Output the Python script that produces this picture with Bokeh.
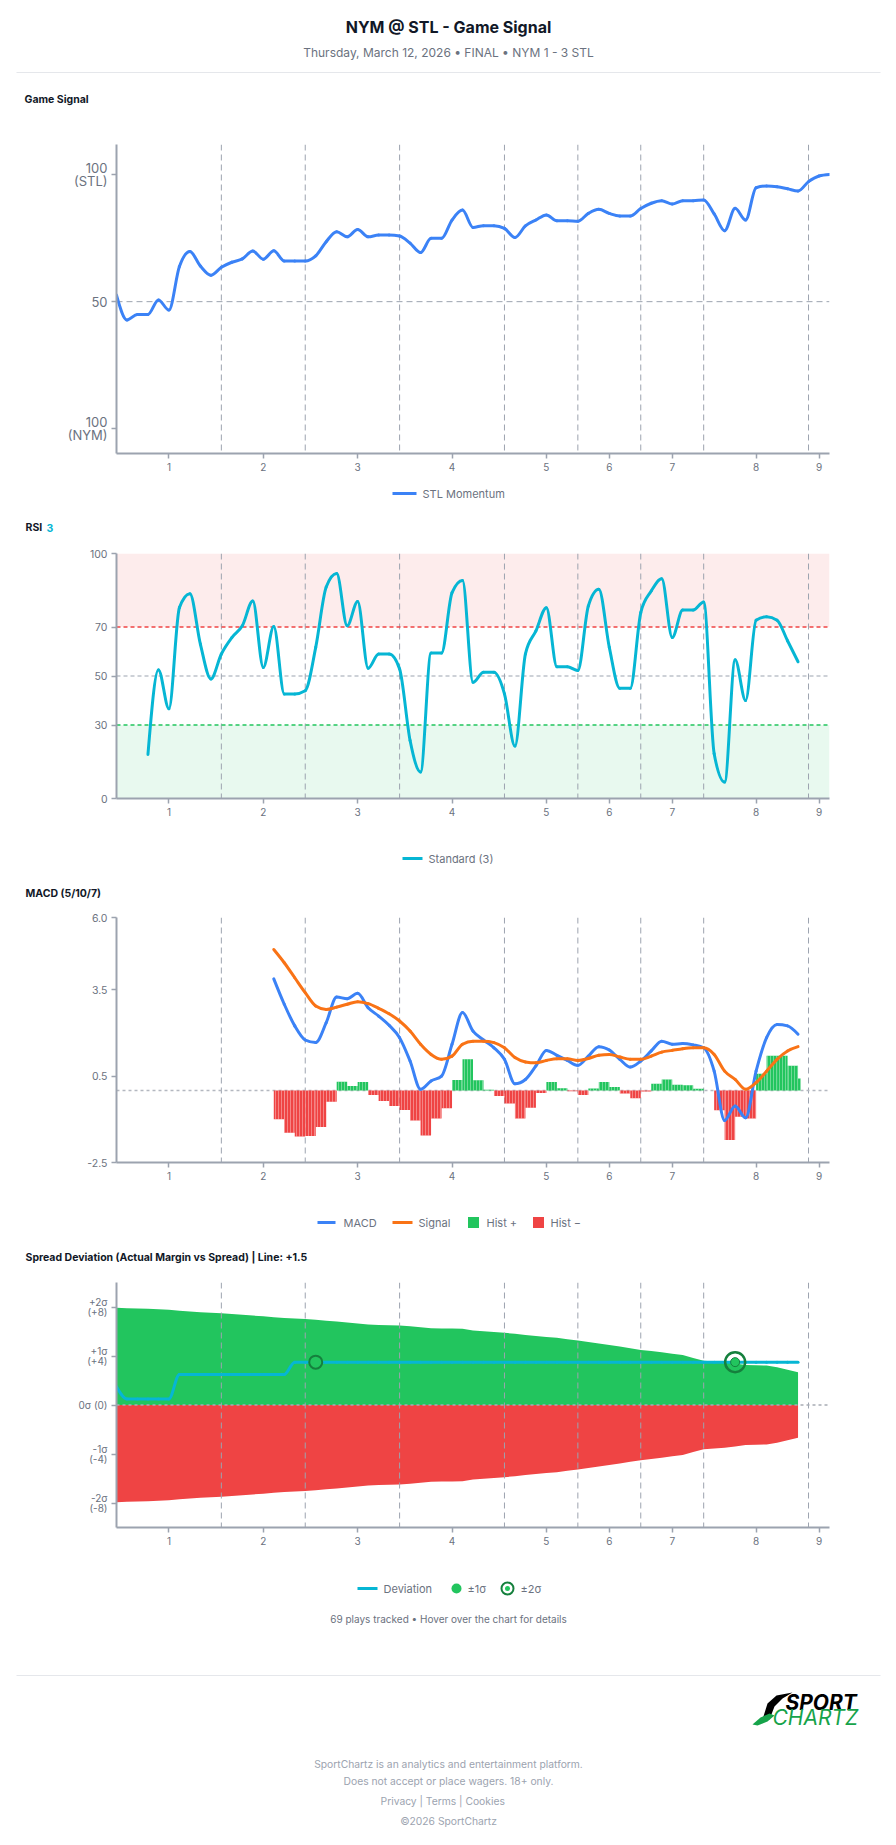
import numpy as np
from bokeh.plotting import figure
from bokeh.layouts import column
from bokeh.models import (Range1d, FixedTicker, Span, BoxAnnotation, PrintfTickFormatter,
                          Label, Arrow, PolyAnnotation)
from bokeh.embed import file_html
from bokeh.resources import INLINE

# ---------------- data ----------------
n_plays = 69
inning_tick_idx = [5, 14, 23, 32, 41, 47, 53, 61, 67]
inning_labels = ["1", "2", "3", "4", "5", "6", "7", "8", "9"]
inning_breaks = [10, 18, 27, 37, 44, 50, 56, 66]

game_signal = [
    52.6, 42.8, 45.0, 45.0, 50.7, 46.7, 63.8, 69.7, 64.0, 60.4,
    63.5, 65.5, 66.8, 69.9, 66.7, 70.0, 66.0, 66.0, 66.0, 68.0,
    73.6, 77.5, 75.5, 78.4, 75.5, 76.2, 76.2, 75.8, 73.0, 69.3,
    74.9, 74.9, 82.1, 86.0, 79.2, 79.9, 79.9, 78.8, 75.2, 79.8,
    82.1, 84.1, 81.8, 81.8, 81.6, 84.7, 86.3, 84.7, 83.7, 83.7,
    86.6, 88.7, 89.7, 88.4, 89.7, 89.7, 90.0, 84.5, 77.9, 86.7,
    82.1, 94.8, 95.5, 95.2, 94.4, 93.5, 97.2, 99.4, 100.0]

rsi_start = 3
rsi = [
    18.0, 52.5, 36.6, 77.9, 83.6, 63.0, 48.8, 59.0, 65.7, 70.5,
    80.6, 53.5, 70.2, 42.7, 42.7, 44.0, 61.7, 86.3, 91.8, 70.5,
    80.4, 53.2, 59.0, 59.0, 52.9, 23.7, 10.8, 59.4, 59.4, 84.0,
    89.0, 47.4, 51.5, 51.5, 42.7, 21.4, 59.0, 68.4, 77.9, 53.8,
    53.8, 52.2, 78.6, 85.4, 61.7, 45.0, 45.0, 75.9, 84.7, 89.7,
    65.7, 76.9, 76.9, 80.2, 18.3, 6.7, 56.6, 40.0, 72.8, 74.2,
    72.8, 64.4, 55.8]
rsi_overbought = 70
rsi_mid = 50
rsi_oversold = 30

macd_start = 15
macd = [
    3.87, 2.99, 2.24, 1.75, 1.66, 2.35, 3.24, 3.18, 3.37, 2.87,
    2.58, 2.26, 1.83, 1.02, 0.04, 0.33, 0.50, 1.60, 2.70, 2.06,
    1.75, 1.48, 1.08, 0.23, 0.38, 0.85, 1.39, 1.22, 1.04, 0.87,
    1.19, 1.52, 1.40, 1.08, 0.81, 1.02, 1.37, 1.71, 1.60, 1.63,
    1.58, 1.48, 0.67, -1.04, -0.54, -0.95, 0.67, 1.83, 2.29, 2.24,
    1.95]
signal = [
    4.89, 4.43, 3.91, 3.39, 2.93, 2.81, 2.89, 2.99, 3.08, 3.01,
    2.85, 2.66, 2.41, 2.06, 1.60, 1.25, 1.08, 1.19, 1.60, 1.71,
    1.71, 1.66, 1.48, 1.14, 0.99, 0.96, 1.04, 1.10, 1.10, 1.04,
    1.11, 1.22, 1.25, 1.16, 1.08, 1.08, 1.19, 1.33, 1.39, 1.45,
    1.48, 1.48, 1.25, 0.67, 0.38, 0.04, 0.27, 0.67, 1.08, 1.37,
    1.52]
hist = [
    -1.00, -1.47, -1.60, -1.58, -1.27, -0.39, 0.30, 0.15, 0.29, -0.16,
    -0.37, -0.54, -0.68, -1.04, -1.56, -0.97, -0.62, 0.36, 1.08, 0.35,
    0.02, -0.19, -0.45, -0.97, -0.60, -0.09, 0.29, 0.08, -0.03, -0.16,
    0.07, 0.29, 0.12, -0.11, -0.27, -0.04, 0.23, 0.38, 0.20, 0.18,
    0.06, 0.00, -0.69, -1.72, -0.91, -0.97, 0.58, 1.20, 1.20, 0.86,
    0.41]

spread_band = [
    7.93, 7.90, 7.88, 7.85, 7.82, 7.77, 7.70, 7.64, 7.57, 7.53,
    7.49, 7.43, 7.37, 7.30, 7.24, 7.17, 7.11, 7.07, 7.03, 6.95,
    6.88, 6.81, 6.73, 6.65, 6.57, 6.54, 6.51, 6.49, 6.42, 6.34,
    6.27, 6.24, 6.24, 6.22, 6.08, 6.02, 5.95, 5.89, 5.81, 5.72,
    5.64, 5.56, 5.48, 5.37, 5.26, 5.14, 5.02, 4.90, 4.77, 4.64,
    4.50, 4.40, 4.30, 4.19, 4.09, 3.84, 3.62, 3.56, 3.49, 3.38,
    3.27, 3.25, 3.22, 3.08, 2.88, 2.67]
deviation = [
    1.5, 0.5, 0.5, 0.5, 0.5, 0.5, 2.5, 2.5, 2.5, 2.5,
    2.5, 2.5, 2.5, 2.5, 2.5, 2.5, 2.5, 3.5, 3.5, 3.5,
    3.5, 3.5, 3.5, 3.5, 3.5, 3.5, 3.5, 3.5, 3.5, 3.5,
    3.5, 3.5, 3.5, 3.5, 3.5, 3.5, 3.5, 3.5, 3.5, 3.5,
    3.5, 3.5, 3.5, 3.5, 3.5, 3.5, 3.5, 3.5, 3.5, 3.5,
    3.5, 3.5, 3.5, 3.5, 3.5, 3.5, 3.5, 3.5, 3.5, 3.5,
    3.5, 3.5, 3.5, 3.5, 3.5, 3.5]
sigma1_idx = [19]
sigma2_idx = [59]
spread_ticks = [-8, -4, 0, 4, 8]
spread_tick_labels = ["-2\u03c3\n(-8)", "-1\u03c3\n(-4)", "0\u03c3 (0)", "+1\u03c3\n(+4)", "+2\u03c3\n(+8)"]
signal_ticks = [0, 50, 100]
signal_tick_labels = ["100\n(NYM)", "50", "100\n(STL)"]

# ---------------- style ----------------
FONT = "Inter"
BLUE = "#3b82f6"
CYAN = "#06b6d4"
ORANGE = "#f97316"
GREEN = "#22c55e"
RED = "#ef4444"
DKGREEN = "#15803d"
LOGOGREEN = "#16a34a"
GRAY = "#9ca3af"
TXT = "#6b7280"
DARK = "#111827"
W = 896
BL, BR = 116, 67            # left/right borders of every chart frame


def strip(h):
    # full-width frame (not aligned with chart frames); data units == page pixels
    f = figure(width=W, height=h, x_range=Range1d(0, W), y_range=Range1d(h, 0),
               toolbar_location=None, output_backend="svg", x_axis_type=None,
               y_axis_type=None, min_border=0, outline_line_color=None,
               frame_align=False)
    f.grid.visible = False
    return f


def txt(f, x, y, s, size, color, style="normal", align="left"):
    f.add_layout(Label(x=x, y=y, text=s, text_font=FONT, text_font_size=size,
                       text_color=color, text_font_style=style, text_align=align,
                       text_baseline="middle"))


def rule(f, y, x0=16, x1=880):
    f.add_layout(Arrow(end=None, x_start=x0, y_start=y, x_end=x1, y_end=y,
                       line_color="#e5e7eb", line_width=1))


def style_axis(ax, size):
    ax.axis_line_color = GRAY
    ax.axis_line_width = 2
    ax.major_tick_line_color = GRAY
    ax.major_tick_line_width = 1.5
    ax.major_tick_out = 5
    ax.major_tick_in = 0
    ax.minor_tick_line_color = None
    ax.major_label_text_font = FONT
    ax.major_label_text_font_size = size
    ax.major_label_text_color = TXT
    ax.major_label_standoff = 4


def panel(h, top, yr, ylab_size="10.5px"):
    f = figure(width=W, height=h, x_range=Range1d(0, n_plays - 1), y_range=yr,
               toolbar_location=None, output_backend="svg",
               min_border_left=BL, min_border_right=BR, min_border_top=top,
               min_border_bottom=25, outline_line_color=None)
    f.grid.visible = False
    f.xaxis.ticker = FixedTicker(ticks=inning_tick_idx)
    f.xaxis.major_label_overrides = {t: l for t, l in zip(inning_tick_idx, inning_labels)}
    style_axis(f.xaxis[0], "10px")
    style_axis(f.yaxis[0], ylab_size)
    return f


def add_breaks(f):
    for b in inning_breaks:
        f.add_layout(Span(location=b, dimension="height", line_color=GRAY,
                          line_dash="6 4", line_width=1, level="underlay"))


def smooth(f, xs, ys, color, width=3):
    xs = np.asarray(xs, float)
    ys = np.asarray(ys, float)
    n = len(xs)
    h = np.diff(xs)
    s = np.diff(ys) / h
    t = np.zeros(n)
    for i in range(1, n - 1):
        if s[i - 1] * s[i] <= 0:
            t[i] = 0.0
        else:
            p = (s[i - 1] * h[i] + s[i] * h[i - 1]) / (h[i - 1] + h[i])
            t[i] = 2 * np.sign(s[i - 1]) * min(abs(s[i - 1]), abs(s[i]), 0.5 * abs(p))
    t[0] = (3 * s[0] - t[1]) / 2
    t[-1] = (3 * s[-1] - t[-2]) / 2
    d = h / 3
    f.bezier(x0=xs[:-1], y0=ys[:-1], x1=xs[1:], y1=ys[1:],
             cx0=xs[:-1] + d, cy0=ys[:-1] + d * t[:-1],
             cx1=xs[1:] - d, cy1=ys[1:] - d * t[1:],
             line_color=color, line_width=width, line_cap="round")


# ---------------- header ----------------
hdr = strip(112)
txt(hdr, 448, 26, "NYM @ STL - Game Signal", "16px", DARK, "bold", "center")
txt(hdr, 448, 52, "Thursday, March 12, 2026 \u2022 FINAL \u2022 NYM 1 - 3 STL", "12px", TXT, "normal", "center")
rule(hdr, 72)
txt(hdr, 24, 99, "Game Signal", "10.5px", DARK, "bold")

# ---------------- game signal ----------------
p1 = panel(366, 32, Range1d(-9.7, 111.8), "13px")
p1.yaxis.ticker = FixedTicker(ticks=signal_ticks)
p1.yaxis.major_label_overrides = {t: l for t, l in zip(signal_ticks, signal_tick_labels)}
p1.yaxis.major_label_text_line_height = 0.8
p1.add_layout(Span(location=50, dimension="width", line_color=GRAY, line_dash="6 4",
                   line_width=1, level="underlay"))
add_breaks(p1)
smooth(p1, np.arange(len(game_signal)), game_signal, BLUE, 3)

l1 = strip(62)
l1.segment(x0=[392], y0=[15], x1=[416], y1=[15], line_color=BLUE, line_width=3)
txt(l1, 422, 15, "STL Momentum", "11px", TXT)
txt(l1, 25, 49, "RSI", "10.5px", DARK, "bold")
txt(l1, 46, 49, "3", "10.5px", CYAN, "bold")

# ---------------- RSI ----------------
p2 = panel(283, 13, Range1d(0, 100))
p2.yaxis.ticker = FixedTicker(ticks=[0, rsi_oversold, rsi_mid, rsi_overbought, 100])
p2.add_layout(BoxAnnotation(bottom=rsi_overbought, top=100, fill_color=RED, fill_alpha=0.1,
                            line_color=None, level="underlay"))
p2.add_layout(BoxAnnotation(bottom=0, top=rsi_oversold, fill_color=GREEN, fill_alpha=0.1,
                            line_color=None, level="underlay"))
add_breaks(p2)
p2.add_layout(Span(location=rsi_overbought, dimension="width", line_color=RED, line_dash="4 3",
                   line_width=1.5, level="underlay"))
p2.add_layout(Span(location=rsi_mid, dimension="width", line_color=GRAY, line_dash="4 3",
                   line_width=1.2, level="underlay"))
p2.add_layout(Span(location=rsi_oversold, dimension="width", line_color=GREEN, line_dash="4 3",
                   line_width=1.5, level="underlay"))
smooth(p2, np.arange(rsi_start, rsi_start + len(rsi)), rsi, CYAN, 3)

l2 = strip(82)
l2.segment(x0=[402], y0=[35], x1=[422], y1=[35], line_color=CYAN, line_width=3)
txt(l2, 428, 35, "Standard (3)", "11px", TXT)
txt(l2, 25, 70, "MACD (5/10/7)", "10.5px", DARK, "bold")

# ---------------- MACD ----------------
p3 = panel(282, 12, Range1d(-2.5, 6.0))
p3.yaxis.ticker = FixedTicker(ticks=[-2.5, 0.5, 3.5, 6.0])
p3.yaxis.formatter = PrintfTickFormatter(format="%.1f")
add_breaks(p3)
p3.add_layout(Span(location=0, dimension="width", line_color="#b4b8c0", line_dash="3 3",
                   line_width=1.5, level="underlay"))
mx = np.arange(macd_start, macd_start + len(macd), dtype=float)
hv = np.asarray(hist)
rights = mx + 1.0
rights[-1] = mx[-1] + 0.25
cols = [GREEN if v >= 0 else RED for v in hv]
p3.quad(left=mx, right=rights, bottom=np.minimum(hv, 0), top=np.maximum(hv, 0),
        fill_color=cols, line_color=None, hatch_pattern="|", hatch_color="white",
        hatch_alpha=0.35, hatch_scale=3, hatch_weight=1)
smooth(p3, mx, macd, BLUE, 3)
smooth(p3, mx, signal, ORANGE, 3)

l3 = strip(83)
l3.segment(x0=[317], y0=[35], x1=[335], y1=[35], line_color=BLUE, line_width=3)
txt(l3, 343, 35, "MACD", "11px", TXT)
l3.segment(x0=[392], y0=[35], x1=[412], y1=[35], line_color=ORANGE, line_width=3)
txt(l3, 418, 35, "Signal", "11px", TXT)
l3.scatter(x=[473], y=[35], marker="square", size=11, fill_color=GREEN, line_color=None)
txt(l3, 486, 35, "Hist +", "11px", TXT)
l3.scatter(x=[538], y=[35], marker="square", size=11, fill_color=RED, line_color=None)
txt(l3, 550, 35, "Hist \u2212", "11px", TXT)
txt(l3, 25, 70, "Spread Deviation (Actual Margin vs Spread) | Line: +1.5", "10.5px", DARK, "bold")

# ---------------- Spread deviation ----------------
p4 = panel(282, 12, Range1d(-10, 10), "10px")
p4.yaxis.ticker = FixedTicker(ticks=spread_ticks)
p4.yaxis.major_label_overrides = {t: l for t, l in zip(spread_ticks, spread_tick_labels)}
p4.yaxis.major_label_text_line_height = 0.85
sx = np.arange(len(spread_band), dtype=float)
sb = np.asarray(spread_band)
p4.varea(x=sx, y1=np.zeros_like(sb), y2=sb, fill_color=GREEN, level="underlay")
p4.varea(x=sx, y1=-sb, y2=np.zeros_like(sb), fill_color=RED, level="underlay")
add_breaks(p4)
p4.add_layout(Span(location=0, dimension="width", line_color="#a8acb4", line_dash="3 3",
                   line_width=1.5, level="underlay"))
smooth(p4, np.arange(len(deviation)), deviation, CYAN, 3)
dv = np.asarray(deviation)
p4.scatter(x=sigma1_idx, y=dv[sigma1_idx], size=13, fill_color=GREEN, line_color=DKGREEN,
           line_width=2)
p4.scatter(x=sigma2_idx, y=dv[sigma2_idx], size=20, fill_color=None, line_color=DKGREEN,
           line_width=2.5)
p4.scatter(x=sigma2_idx, y=dv[sigma2_idx], size=9, fill_color=GREEN, line_color=DKGREEN,
           line_width=1)

# ---------------- footer ----------------
ft = strip(293)
ft.segment(x0=[357], y0=[36], x1=[377], y1=[36], line_color=CYAN, line_width=3)
txt(ft, 383, 36, "Deviation", "11px", TXT)
ft.scatter(x=[456], y=[36], size=10, fill_color=GREEN, line_color=None)
txt(ft, 467, 36, "\u00b11\u03c3", "11px", TXT)
ft.scatter(x=[507], y=[36], size=12, fill_color="white", line_color=DKGREEN, line_width=2)
ft.scatter(x=[507], y=[36], size=5, fill_color=GREEN, line_color=None)
txt(ft, 520, 36, "\u00b12\u03c3", "11px", TXT)
txt(ft, 448, 66, "69 plays tracked \u2022 Hover over the chart for details", "10px", TXT, "normal", "center")
rule(ft, 123)
# logo
ft.add_layout(PolyAnnotation(xs=[762, 767, 776, 792, 782, 774, 769], ys=[167, 151, 143, 140, 146, 154, 167],
                             fill_color="black", fill_alpha=1, line_color=None))
ft.add_layout(PolyAnnotation(xs=[752, 760, 769, 774, 767, 757], ys=[172, 165, 161, 163, 169, 173],
                             fill_color=LOGOGREEN, fill_alpha=1, line_color=None))
txt(ft, 785, 150, "SPORT", "21px", "black", "bold italic")
txt(ft, 772, 165, "CHARTZ", "21px", LOGOGREEN, "italic")
txt(ft, 448, 211, "SportChartz is an analytics and entertainment platform.", "10.3px", GRAY, "normal", "center")
txt(ft, 448, 228, "Does not accept or place wagers. 18+ only.", "10.3px", GRAY, "normal", "center")
txt(ft, 448, 248, "Privacy  |  Terms  |  Cookies", "10.3px", GRAY, "normal", "center")
txt(ft, 448, 268, "\u00a92026 SportChartz", "10.3px", GRAY, "normal", "center")

layout = column(hdr, p1, l1, p2, l2, p3, l3, p4, ft, spacing=0)
open("out.html", "w").write(file_html(layout, INLINE))
